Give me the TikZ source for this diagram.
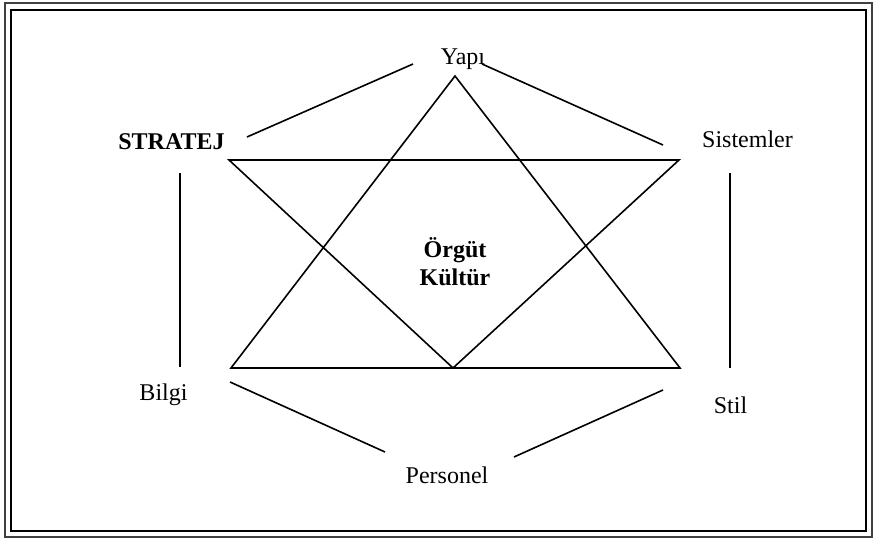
\documentclass[tikz,border=0pt]{standalone}
\usepackage{fontspec}
\setmainfont{Liberation Serif}
\begin{document}
\begin{tikzpicture}[x=0.5pt,y=-0.5pt,
  lbl/.style={anchor=base,inner sep=0pt,font=\fontsize{12}{14}\selectfont},
  blbl/.style={lbl,font=\fontsize{12}{14}\selectfont\bfseries},
  edge/.style={line width=0.8pt,black}]
\useasboundingbox (0,0) rectangle (877,539);
% frame
\draw[line width=1pt,black!75] (5,3) rectangle (872,537);
\draw[line width=1.4pt] (11,10) rectangle (866,531);
% labels
\node[lbl] (yapi) at (463,65) {Yapı};
\node[blbl] (strat) at (171.5,150) {STRATEJ};
\node[lbl] (sist) at (747.5,148) {Sistemler};
\node[lbl] (bilgi) at (163.5,400) {Bilgi};
\node[lbl] (stil) at (730.5,413) {Stil};
\node[lbl] (pers) at (447,483) {Personel};
\node[blbl] (orgut) at (455,258) {Örgüt};
\node[blbl] (kultur) at (455,286) {Kültür};
% coordinates
\coordinate (a1) at (247,137); \coordinate (a2) at (413,64);
\coordinate (b1) at (482,64);  \coordinate (b2) at (663,145);
\coordinate (u1) at (231,368); \coordinate (u2) at (680,368); \coordinate (u3) at (455,76);
\coordinate (d1) at (229,160); \coordinate (d2) at (679,160); \coordinate (d3) at (453,368);
\coordinate (v1) at (180,173); \coordinate (v2) at (180,367);
\coordinate (w1) at (730,173); \coordinate (w2) at (730,368);
\coordinate (p1) at (230,382); \coordinate (p2) at (385,452);
\coordinate (q1) at (514,457); \coordinate (q2) at (663,390);
% lines
\draw[edge] (a1) -- (a2);
\draw[edge] (b1) -- (b2);
\draw[edge] (u1) -- (u2) -- (u3) -- cycle;
\draw[edge] (d1) -- (d2) -- (d3) -- cycle;
\draw[edge] (v1) -- (v2);
\draw[edge] (w1) -- (w2);
\draw[edge] (p1) -- (p2);
\draw[edge] (q1) -- (q2);
\end{tikzpicture}
\end{document}
